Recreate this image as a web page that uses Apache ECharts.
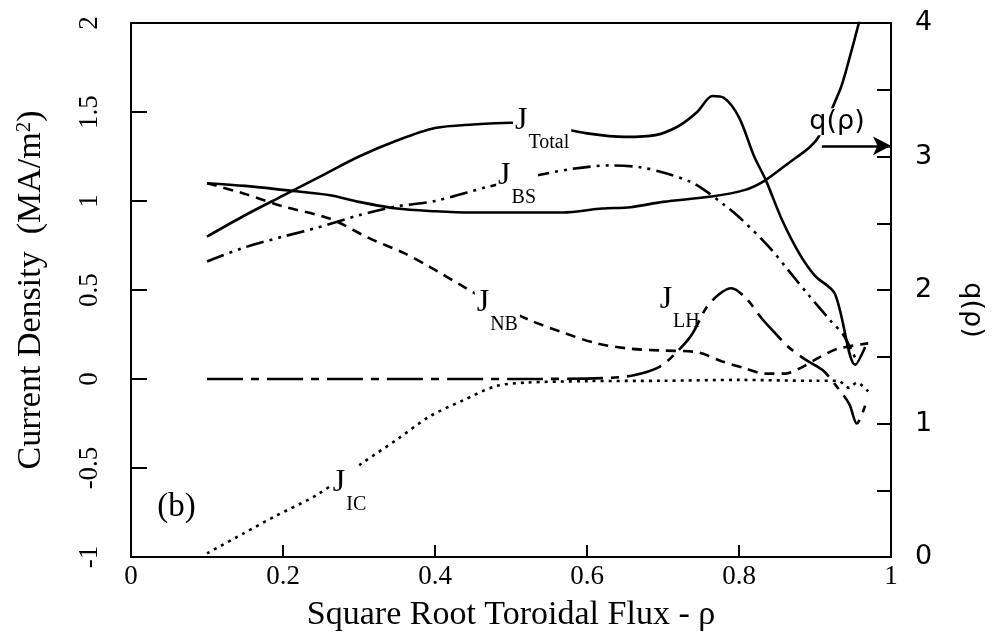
<!DOCTYPE html>
<html>
<head>
<meta charset="utf-8">
<script src="https://cdn.jsdelivr.net/npm/echarts@6/dist/echarts.min.js"></script>
<style>html,body{margin:0;padding:0;background:#fff;}#c{width:995px;height:639px;}</style>
</head>
<body>
<div id="c"></div>
<script>
// ---- data (rho, value) ----
const xTicks = [0, 0.2, 0.4, 0.6, 0.8, 1];
const jTotal = [[0.1,0.8],[0.15,0.92],[0.2,1.03],[0.25,1.14],[0.3,1.25],[0.35,1.34],[0.4,1.41],[0.45,1.43],[0.5,1.44],[0.55,1.42],[0.6,1.38],[0.65,1.36],[0.69,1.37],[0.72,1.42],[0.745,1.5],[0.765,1.59],[0.78,1.58],[0.8,1.47],[0.82,1.25],[0.835,1.12],[0.857,0.89],[0.88,0.7],[0.9,0.58],[0.926,0.48],[0.953,0.08],[0.966,0.18]];
const jBS = [[0.1,0.66],[0.15,0.74],[0.2,0.8],[0.245,0.85],[0.3,0.92],[0.35,0.97],[0.4,1.0],[0.47,1.08],[0.53,1.14],[0.58,1.18],[0.63,1.2],[0.67,1.19],[0.7,1.16],[0.735,1.11],[0.755,1.06],[0.78,0.98],[0.8,0.91],[0.84,0.74],[0.865,0.61],[0.89,0.48],[0.922,0.32],[0.937,0.25],[0.955,0.1]];
const jNB = [[0.1,1.1],[0.15,1.04],[0.2,0.97],[0.262,0.9],[0.314,0.79],[0.358,0.71],[0.393,0.63],[0.437,0.52],[0.47,0.44],[0.525,0.33],[0.569,0.26],[0.613,0.2],[0.657,0.17],[0.7,0.16],[0.746,0.15],[0.777,0.1],[0.808,0.06],[0.834,0.03],[0.86,0.03],[0.88,0.06],[0.905,0.12],[0.93,0.17],[0.97,0.2]];
const jLH = [[0.1,0.0],[0.3,0.0],[0.5,0.0],[0.62,0.005],[0.66,0.02],[0.696,0.07],[0.72,0.16],[0.738,0.25],[0.757,0.4],[0.775,0.48],[0.79,0.51],[0.81,0.45],[0.83,0.34],[0.847,0.26],[0.865,0.18],[0.887,0.11],[0.91,0.05],[0.93,-0.05],[0.945,-0.14],[0.955,-0.25],[0.966,-0.15]];
const jIC = [[0.1,-0.98],[0.147,-0.87],[0.19,-0.77],[0.245,-0.65],[0.305,-0.47],[0.35,-0.34],[0.393,-0.21],[0.437,-0.12],[0.48,-0.04],[0.52,-0.02],[0.6,-0.012],[0.7,-0.01],[0.8,-0.005],[0.9,-0.01],[0.93,-0.01],[0.945,-0.05],[0.955,-0.02],[0.97,-0.07]];
const qRho = [[0.1,2.8],[0.15,2.78],[0.2,2.75],[0.262,2.71],[0.3,2.66],[0.35,2.61],[0.4,2.59],[0.446,2.58],[0.5,2.58],[0.568,2.58],[0.62,2.61],[0.657,2.62],[0.7,2.66],[0.764,2.7],[0.808,2.75],[0.834,2.82],[0.865,2.95],[0.893,3.07],[0.905,3.15],[0.933,3.5],[0.946,3.75],[0.96,4.05]];
const qArrow = [[0.909,3.08],[1.0,3.08]];

const serif = 'Liberation Serif';
const sans = 'DejaVu Sans';
const clear = {color: 'rgba(0,0,0,0)'};

function lbl(sub, coord) {
  return {
    coord: coord, symbol: 'circle', symbolSize: 1, itemStyle: clear,
    label: {
      show: true, position: 'inside', formatter: '{j|J}{s|' + sub + '}',
      backgroundColor: '#fff', padding: [0, 2, 0, 2],
      rich: {
        j: {fontFamily: serif, fontSize: 32, lineHeight: 32, verticalAlign: 'top', color: '#000'},
        s: {fontFamily: serif, fontSize: 20, lineHeight: 20, verticalAlign: 'top', padding: [28, 0, 0, 1], color: '#000'}
      }
    }
  };
}
function mp(items) { return {silent: true, symbol: 'circle', symbolSize: 1, itemStyle: clear, data: items, z: 10, animation: false}; }

const base = {type: 'line', showSymbol: false, smooth: 0.3, clip: true, animation: false};

const chart = echarts.init(document.getElementById('c'), null, {renderer: 'canvas'});
chart.setOption({
  backgroundColor: '#fff',
  animation: false,
  grid: {left: 131, right: 104, top: 23, bottom: 82, show: true, borderColor: '#000', borderWidth: 2},
  xAxis: {
    type: 'value', min: 0, max: 1, interval: 0.2,
    name: 'Square Root Toroidal Flux - ρ', nameLocation: 'middle', nameGap: 41,
    nameTextStyle: {fontFamily: serif, fontSize: 34, color: '#000'},
    axisLine: {onZero: false, lineStyle: {color: '#000', width: 2}},
    axisTick: {inside: true, length: 12, lineStyle: {color: '#000', width: 2}},
    axisLabel: {fontFamily: serif, fontSize: 27, color: '#000', margin: 6,
      formatter: v => (xTicks.indexOf(Math.round(v*10)/10) >= 0 ? String(Math.round(v*10)/10) : '')},
    splitLine: {show: false}
  },
  yAxis: [{
    type: 'value', min: -1, max: 2, interval: 0.5, position: 'left',
    name: 'Current Density  (MA/m{sup|2})', nameLocation: 'middle', nameGap: 82,
    nameTextStyle: {fontFamily: serif, fontSize: 34, color: '#000',
      rich: {sup: {fontFamily: serif, fontSize: 21, verticalAlign: 'top', padding: [0,0,14,0], color: '#000'}}},
    axisLine: {show: true, onZero: false, lineStyle: {color: '#000', width: 2}},
    axisTick: {show: true, inside: true, length: 16, lineStyle: {color: '#000', width: 2}},
    axisLabel: {fontFamily: serif, fontSize: 27, color: '#000', rotate: 90, margin: 28},
    splitLine: {show: false}
  }, {
    type: 'value', min: 0, max: 4, interval: 0.5, position: 'right',
    name: 'q(ρ)', nameLocation: 'middle', nameGap: 68, nameRotate: -90,
    nameTextStyle: {fontFamily: sans, fontSize: 27, color: '#000', padding: [0, 0, 0, 40]},
    axisLine: {show: true, onZero: false, lineStyle: {color: '#000', width: 2}},
    axisTick: {show: true, inside: true, length: 14, lineStyle: {color: '#000', width: 2}},
    axisLabel: {fontFamily: sans, fontSize: 27, color: '#000', margin: 24,
      formatter: v => (Math.abs(v - Math.round(v)) < 1e-6 ? String(Math.round(v)) : '')},
    splitLine: {show: false}
  }],
  series: [
    Object.assign({}, base, {name: 'J Total', data: jTotal, lineStyle: {color: '#000', width: 2.6},
      markPoint: mp([lbl('Total', [0.541, 1.45])])}),
    Object.assign({}, base, {name: 'J BS', data: jBS, lineStyle: {color: '#000', width: 2.6, type: [18, 6, 3, 6, 3, 6]},
      markPoint: mp([lbl('BS', [0.508, 1.14])])}),
    Object.assign({}, base, {name: 'J NB', data: jNB, lineStyle: {color: '#000', width: 2.6, type: [10, 7]},
      markPoint: mp([lbl('NB', [0.482, 0.427])])}),
    Object.assign({}, base, {name: 'J LH', data: jLH, lineStyle: {color: '#000', width: 2.6, type: [36, 8, 8, 8]},
      markPoint: mp([lbl('LH', [0.722, 0.444])])}),
    Object.assign({}, base, {name: 'J IC', data: jIC, lineStyle: {color: '#000', width: 2.6, type: [3, 5]},
      markPoint: mp([lbl('IC', [0.2875, -0.584]),
        {coord: [0.06, -0.72], symbol: 'circle', symbolSize: 1, itemStyle: clear,
         label: {show: true, position: 'inside', formatter: '(b)', fontFamily: serif, fontSize: 33, color: '#000'}}])}),
    Object.assign({}, base, {name: 'q', yAxisIndex: 1, data: qRho, lineStyle: {color: '#000', width: 2.6},
      markPoint: mp([{coord: [0.929, 3.26], symbol: 'circle', symbolSize: 1, itemStyle: clear,
        label: {show: true, position: 'inside', formatter: 'q(ρ)', fontFamily: sans, fontSize: 27, color: '#000',
          backgroundColor: '#fff', padding: [0, 1, 0, 1]}}]),
      markLine: {silent: true, symbol: ['none', 'arrow'], symbolSize: [14, 18], animation: false,
        label: {show: false}, lineStyle: {color: '#000', width: 2.6, type: 'solid'},
        data: [[{coord: qArrow[0]}, {coord: qArrow[1]}]]}})
  ]
});
</script>
</body>
</html>
